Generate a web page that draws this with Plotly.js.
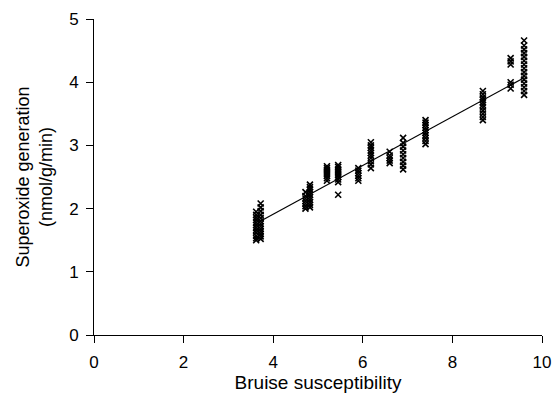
<!DOCTYPE html>
<html>
<head>
<meta charset="utf-8">
<script src="https://cdn.plot.ly/plotly-3.0.1.min.js"></script>
<style>html,body{margin:0;padding:0;background:#fff;}#chart{width:553px;height:395px;}</style>
</head>
<body>
<div id="chart"></div>
<script>
// Cluster x positions (bruise susceptibility)
const clusterX = [3.62, 3.72, 4.72, 4.82, 5.2, 5.45, 5.9, 6.18, 6.6, 6.9, 7.4, 8.68, 9.3, 9.6];
// Superoxide generation values per cluster
const y_362 = [1.50, 1.53, 1.57, 1.62, 1.66, 1.70, 1.74, 1.78, 1.82, 1.86, 1.90, 1.95];
const y_372 = [1.52, 1.56, 1.60, 1.64, 1.68, 1.72, 1.76, 1.80, 1.85, 1.90, 1.96, 2.02, 2.08];
const y_472 = [2.00, 2.04, 2.08, 2.12, 2.16, 2.20, 2.26];
const y_482 = [2.02, 2.06, 2.10, 2.14, 2.18, 2.22, 2.26, 2.30, 2.34, 2.38];
const y_520 = [2.44, 2.48, 2.52, 2.55, 2.58, 2.61, 2.64, 2.67];
const y_545 = [2.22, 2.42, 2.46, 2.50, 2.53, 2.56, 2.59, 2.62, 2.66, 2.69];
const y_590 = [2.44, 2.48, 2.52, 2.56, 2.60, 2.64];
const y_618 = [2.64, 2.70, 2.75, 2.80, 2.84, 2.88, 2.92, 2.96, 3.00, 3.05];
const y_660 = [2.72, 2.76, 2.80, 2.84, 2.90];
const y_690 = [2.62, 2.68, 2.74, 2.80, 2.86, 2.92, 2.98, 3.04, 3.12];
const y_740 = [3.02, 3.07, 3.12, 3.16, 3.20, 3.24, 3.28, 3.32, 3.36, 3.40];
const y_868 = [3.40, 3.45, 3.50, 3.55, 3.60, 3.64, 3.68, 3.72, 3.76, 3.81, 3.86];
const y_930 = [3.90, 3.96, 4.00, 4.28, 4.33, 4.38];
const y_960 = [3.80, 3.86, 3.92, 3.98, 4.04, 4.10, 4.16, 4.22, 4.28, 4.34, 4.40, 4.46, 4.52, 4.58, 4.66];
const clusterY = [y_362, y_372, y_472, y_482, y_520, y_545, y_590, y_618, y_660, y_690, y_740, y_868, y_930, y_960];
// Regression line end points
const fitX = [3.66, 9.6];
const fitY = [1.78, 4.07];
// Axis ticks
const xTicks = [0, 2, 4, 6, 8, 10];
const yTicks = [0, 1, 2, 3, 4, 5];

const px = [], py = [];
clusterX.forEach((cx, i) => clusterY[i].forEach(v => { px.push(cx); py.push(v); }));

const traces = [
  {x: px, y: py, mode: 'markers', type: 'scatter',
   marker: {symbol: 'x-thin', size: 6, color: '#000', line: {color: '#000', width: 1.6}},
   cliponaxis: false, hoverinfo: 'skip'},
  {x: fitX, y: fitY, mode: 'lines', type: 'scatter', line: {color: '#000', width: 1.2}, hoverinfo: 'skip'}
];

const fam = 'Liberation Sans, Arial, sans-serif';
const tickFont = {family: fam, size: 17, color: '#000'};
const titleFont = {family: fam, size: 18, color: '#000'};
const layout = {
  width: 553, height: 395,
  margin: {l: 94, r: 11, t: 19, b: 60},
  paper_bgcolor: '#fff', plot_bgcolor: '#fff',
  showlegend: false,
  font: tickFont,
  xaxis: {range: [0, 10], tickvals: xTicks, ticktext: xTicks.map(String),
    showgrid: false, zeroline: false, showline: true, linecolor: '#000', linewidth: 1,
    ticks: 'outside', ticklen: 7, tickcolor: '#000', tickfont: tickFont, ticklabelstandoff: 5,
    title: {text: 'Bruise susceptibility', font: {family: fam, size: 19, color: '#000'}, standoff: 1}},
  yaxis: {range: [0, 5], tickvals: yTicks, ticktext: yTicks.map(String),
    showgrid: false, zeroline: false, showline: true, linecolor: '#000', linewidth: 1,
    ticks: 'outside', ticklen: 7, tickcolor: '#000', tickfont: tickFont, ticklabelstandoff: 4,
    title: {text: 'Superoxide generation<br>(nmol/g/min)', font: titleFont, standoff: 11}}
};
Plotly.newPlot('chart', traces, layout, {staticPlot: true});
</script>
</body>
</html>
